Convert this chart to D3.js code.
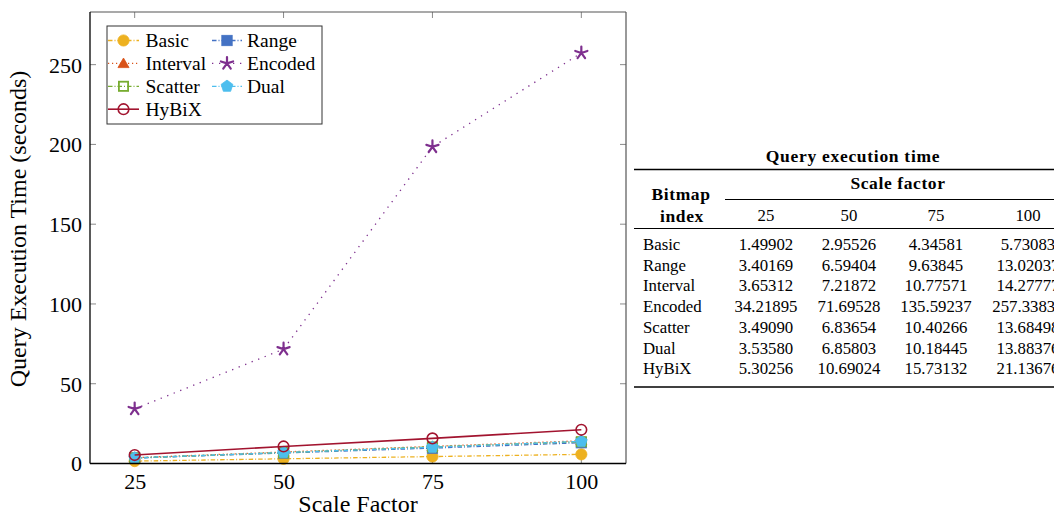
<!DOCTYPE html>
<html>
<head>
<meta charset="utf-8">
<script src="https://cdn.jsdelivr.net/npm/d3@7"></script>
<style>
  html, body { margin: 0; padding: 0; background: #fff; overflow: hidden; }
  svg { display: block; font-family: "Liberation Serif", "Times New Roman", serif; }
  svg text { font-family: "Liberation Serif", "Times New Roman", serif; }
</style>
</head>
<body>
<svg id="chart" width="1054" height="517"></svg>
<script>
// ---------- data ----------
const scaleFactors = [25, 50, 75, 100];
const yTicks = [0, 50, 100, 150, 200, 250];
const seriesNames = ["Basic", "Range", "Interval", "Encoded", "Scatter", "Dual", "HyBiX"];
const basic    = [1.49902, 2.95526, 4.34581, 5.73083];
const range    = [3.40169, 6.59404, 9.63845, 13.02037];
const interval = [3.65312, 7.21872, 10.77571, 14.27777];
const encoded  = [34.21895, 71.69528, 198.5, 257.33833];
const scatter  = [3.49090, 6.83654, 10.40266, 13.68498];
const dual     = [3.53580, 6.85803, 10.18445, 13.88376];
const hybix    = [5.30256, 10.69024, 15.73132, 21.13676];

// table (text as printed)
const tableTitle = "Query execution time";
const tableGroupHeader = "Scale factor";
const tableRowHeader = ["Bitmap", "index"];
const tableColumns = ["25", "50", "75", "100"];
const tableRows = ["Basic", "Range", "Interval", "Encoded", "Scatter", "Dual", "HyBiX"];
const tBasic    = ["1.49902", "2.95526", "4.34581", "5.73083"];
const tRange    = ["3.40169", "6.59404", "9.63845", "13.02037"];
const tInterval = ["3.65312", "7.21872", "10.77571", "14.27777"];
const tEncoded  = ["34.21895", "71.69528", "135.59237", "257.33833"];
const tScatter  = ["3.49090", "6.83654", "10.40266", "13.68498"];
const tDual     = ["3.53580", "6.85803", "10.18445", "13.88376"];
const tHybix    = ["5.30256", "10.69024", "15.73132", "21.13676"];

// ---------- styles ----------
const styles = {
  Basic:    { color: "#EDB120", dash: "4.5,2,1,2", marker: "circle", fill: true },
  Range:    { color: "#4472C4", dash: "4.5,2,1,2", marker: "square", fill: true },
  Interval: { color: "#D95319", dash: "1.2,2.8", marker: "triangle", fill: true },
  Encoded:  { color: "#7E2F8E", dash: "1.3,5.7", marker: "star", fill: false },
  Scatter:  { color: "#77AC30", dash: "4.5,2,1,2", marker: "square", fill: false },
  Dual:     { color: "#4DBEEE", dash: "4.5,2,1,2", marker: "pentagon", fill: true },
  HyBiX:    { color: "#A2142F", dash: null, marker: "circle", fill: false }
};
const seriesValues = [basic, range, interval, encoded, scatter, dual, hybix];
const series = seriesNames.map((n, i) => ({ name: n, values: seriesValues[i], ...styles[n] }));

const FONT = "'Liberation Serif', 'Times New Roman', serif";
const svg = d3.select("#chart");

const L = 90, R = 626, T = 12, B = 463.5;
const x = d3.scaleLinear().domain([17.5, 107.5]).range([L, R]);
const y = d3.scaleLinear().domain([0, 283]).range([B, T]);

// ---------- marker drawing ----------
function drawMarker(g, type, cx, cy, s) {
  const c = s.color;
  if (type === "circle") {
    if (s.fill) g.append("circle").attr("cx", cx).attr("cy", cy).attr("r", 5.6).attr("fill", c).attr("stroke", c).attr("stroke-width", 0.8);
    else g.append("circle").attr("cx", cx).attr("cy", cy).attr("r", 5.3).attr("fill", "none").attr("stroke", c).attr("stroke-width", 1.6);
  } else if (type === "square") {
    if (s.fill) g.append("rect").attr("x", cx - 5.2).attr("y", cy - 5.2).attr("width", 10.4).attr("height", 10.4).attr("fill", c).attr("stroke", c).attr("stroke-width", 0.8);
    else g.append("rect").attr("x", cx - 4.6).attr("y", cy - 4.6).attr("width", 9.2).attr("height", 9.2).attr("fill", "none").attr("stroke", c).attr("stroke-width", 1.8);
  } else if (type === "triangle") {
    const r = 6.4;
    const pts = [0, 1, 2].map(k => {
      const a = -Math.PI / 2 + k * 2 * Math.PI / 3;
      return [cx + r * Math.cos(a), cy + 1 + r * Math.sin(a)];
    });
    g.append("polygon").attr("points", pts.map(p => p.join(",")).join(" ")).attr("fill", c).attr("stroke", c).attr("stroke-width", 0.8);
  } else if (type === "pentagon") {
    const r = 6.2;
    const pts = d3.range(5).map(k => {
      const a = -Math.PI / 2 + k * 2 * Math.PI / 5;
      return [cx + r * Math.cos(a), cy + r * Math.sin(a)];
    });
    g.append("polygon").attr("points", pts.map(p => p.join(",")).join(" ")).attr("fill", c).attr("stroke", c).attr("stroke-width", 0.8);
  } else if (type === "star") {
    const r = 6.4;
    let d = "";
    for (let k = 0; k < 5; k++) {
      const a = -Math.PI / 2 + k * 2 * Math.PI / 5;
      d += `M${cx},${cy}L${cx + r * Math.cos(a)},${cy + r * Math.sin(a)}`;
    }
    g.append("path").attr("d", d).attr("stroke", c).attr("stroke-width", 2.2).attr("fill", "none").attr("stroke-linecap", "round");
  }
}

// ---------- ticks (gray, inside) ----------
const tickG = svg.append("g").attr("stroke", "#8a8a8a").attr("stroke-width", 1);
yTicks.forEach(t => {
  if (t === 0) return;
  tickG.append("line").attr("x1", L).attr("x2", L + 6).attr("y1", y(t)).attr("y2", y(t));
  tickG.append("line").attr("x1", R).attr("x2", R - 6).attr("y1", y(t)).attr("y2", y(t));
});
scaleFactors.forEach(t => {
  tickG.append("line").attr("x1", x(t)).attr("x2", x(t)).attr("y1", B).attr("y2", B - 6);
  tickG.append("line").attr("x1", x(t)).attr("x2", x(t)).attr("y1", T).attr("y2", T + 6);
});

// ---------- series ----------
const plotG = svg.append("g");
const lineGen = d3.line().x((d, i) => x(scaleFactors[i])).y(d => y(d));
series.forEach(s => {
  const g = plotG.append("g");
  g.append("path").attr("d", lineGen(s.values)).attr("fill", "none")
    .attr("stroke", s.color).attr("stroke-width", s.dash ? 1.3 : 1.6)
    .attr("stroke-dasharray", s.dash);
  s.values.forEach((v, i) => drawMarker(g, s.marker, x(scaleFactors[i]), y(v), s));
});

// ---------- frame ----------
svg.append("line").attr("x1", L).attr("x2", R).attr("y1", T).attr("y2", T).attr("stroke", "#555").attr("stroke-width", 1.2);
svg.append("line").attr("x1", R).attr("x2", R).attr("y1", T).attr("y2", B).attr("stroke", "#555").attr("stroke-width", 1.2);
svg.append("line").attr("x1", L).attr("x2", L).attr("y1", T).attr("y2", B).attr("stroke", "#000").attr("stroke-width", 1.3);
svg.append("line").attr("x1", L).attr("x2", R).attr("y1", B).attr("y2", B).attr("stroke", "#000").attr("stroke-width", 1.3);

// ---------- axes labels ----------
const yAxis = d3.axisLeft(y).tickValues(yTicks).tickSize(0).tickPadding(8);
const yAx = svg.append("g").attr("transform", `translate(${L},0)`).call(yAxis).attr("font-family", FONT);
yAx.select(".domain").remove();
yAx.selectAll("text").attr("font-size", 22).attr("font-family", FONT).attr("fill", "#000").attr("dy", "0.34em");

const xAxis = d3.axisBottom(x).tickValues(scaleFactors).tickSize(0).tickPadding(8);
const xAx = svg.append("g").attr("transform", `translate(0,${B})`).call(xAxis).attr("font-family", FONT);
xAx.select(".domain").remove();
xAx.selectAll("text").attr("font-size", 22).attr("font-family", FONT).attr("fill", "#000").attr("dy", "0.78em");

svg.append("text").attr("x", 358).attr("y", 512).attr("text-anchor", "middle")
  .attr("font-family", FONT).attr("font-size", 24).text("Scale Factor");
svg.append("text").attr("transform", "translate(26,229) rotate(-90)").attr("text-anchor", "middle")
  .attr("font-family", FONT).attr("font-size", 24).text("Query Execution Time (seconds)");

// ---------- legend ----------
const lg = svg.append("g");
lg.append("rect").attr("x", 107).attr("y", 26).attr("width", 215).attr("height", 98)
  .attr("fill", "#fff").attr("stroke", "#333").attr("stroke-width", 1);
const colX = [[108, 139, 145.5], [212, 242, 247]];
const rowY = [40.5, 63.4, 86.3, 109.2];
series.forEach((s, i) => {
  const col = i % 2, row = Math.floor(i / 2);
  const [x0, x1, tx] = colX[col];
  const cy = rowY[row];
  const g = lg.append("g");
  g.append("line").attr("x1", x0).attr("x2", x1).attr("y1", cy).attr("y2", cy)
    .attr("stroke", s.color).attr("stroke-width", s.dash ? 1.3 : 1.6).attr("stroke-dasharray", s.dash);
  drawMarker(g, s.marker, (x0 + x1) / 2, cy, s);
  g.append("text").attr("x", tx).attr("y", cy + 6.6).attr("font-family", FONT).attr("font-size", 19.5).text(s.name);
});

// ---------- table ----------
const tb = svg.append("g").attr("font-size", 16.8).attr("font-family", FONT);
const tableValues = [tBasic, tRange, tInterval, tEncoded, tScatter, tDual, tHybix];
const colCenters = [766, 849, 936, 1028];
tb.append("text").attr("x", 853).attr("y", 162).attr("text-anchor", "middle")
  .attr("font-weight", "bold").attr("font-size", 17.5).attr("letter-spacing", 0.7).text(tableTitle);
tb.append("line").attr("x1", 634).attr("x2", 1060).attr("y1", 169.5).attr("y2", 169.5).attr("stroke", "#000").attr("stroke-width", 1.6);
tb.append("text").attr("x", 898).attr("y", 189).attr("text-anchor", "middle")
  .attr("font-weight", "bold").attr("font-size", 17.5).attr("letter-spacing", 0.6).text(tableGroupHeader);
tb.append("line").attr("x1", 725).attr("x2", 1060).attr("y1", 199.5).attr("y2", 199.5).attr("stroke", "#000").attr("stroke-width", 1);
tb.append("text").attr("x", 681).attr("y", 200).attr("text-anchor", "middle")
  .attr("font-weight", "bold").attr("font-size", 17.5).attr("letter-spacing", 0.6).text(tableRowHeader[0]);
tb.append("text").attr("x", 682).attr("y", 221.5).attr("text-anchor", "middle")
  .attr("font-weight", "bold").attr("font-size", 17.5).attr("letter-spacing", 0.6).text(tableRowHeader[1]);
tableColumns.forEach((c, j) => {
  tb.append("text").attr("x", colCenters[j]).attr("y", 220.5).attr("text-anchor", "middle").text(c);
});
tb.append("line").attr("x1", 634).attr("x2", 1060).attr("y1", 228.5).attr("y2", 228.5).attr("stroke", "#000").attr("stroke-width", 1);
tableRows.forEach((r, i) => {
  const by = 250 + i * 20.7;
  tb.append("text").attr("x", 643).attr("y", by).text(r);
  tableValues[i].forEach((v, j) => {
    tb.append("text").attr("x", colCenters[j]).attr("y", by).attr("text-anchor", "middle").text(v);
  });
});
tb.append("line").attr("x1", 634).attr("x2", 1060).attr("y1", 387).attr("y2", 387).attr("stroke", "#000").attr("stroke-width", 1.6);
</script>
</body>
</html>
